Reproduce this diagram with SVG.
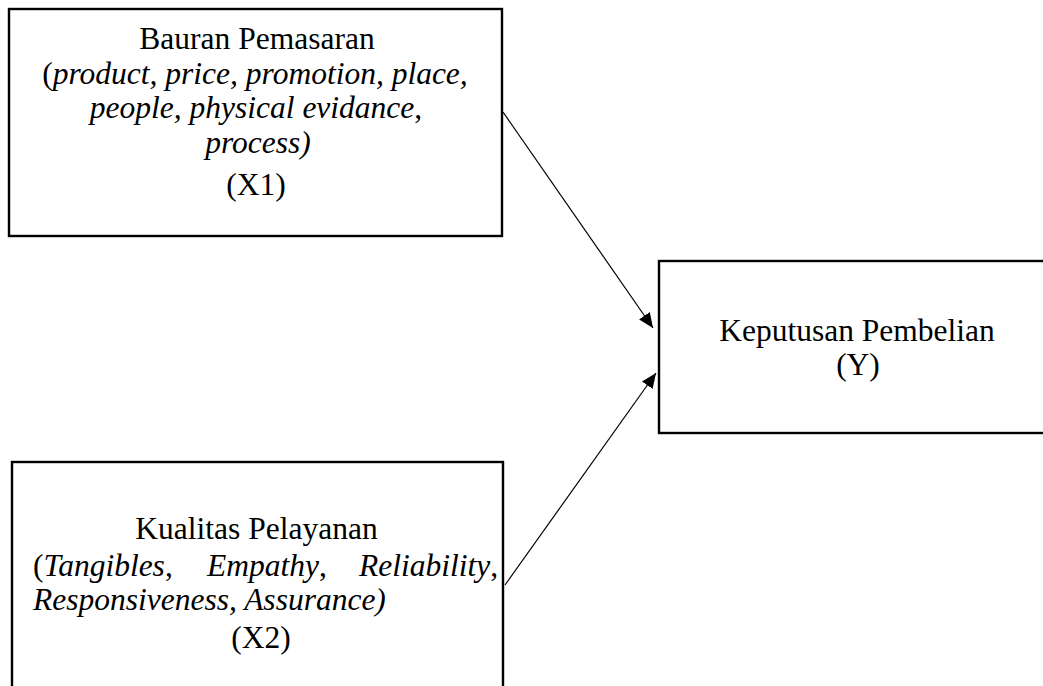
<svg xmlns="http://www.w3.org/2000/svg" width="1043" height="686" viewBox="0 0 1043 686">
<style>
.box{fill:#fff;stroke:#000;stroke-width:2.4}
.t{font-family:"Liberation Serif","Times New Roman",serif;font-size:31.5px;fill:#000}
.c{text-anchor:middle}
.e{text-anchor:end}
.i{font-style:italic}
.edge{stroke:#000;stroke-width:1.2;fill:none}
</style>
<defs>
<marker id="ah" markerUnits="userSpaceOnUse" markerWidth="16" markerHeight="14" refX="15" refY="6.5" orient="auto">
<path d="M0,0 L15,6.5 L0,13 z" fill="#000"/>
</marker>
</defs>
<g id="connectors">
<line class="edge" x1="503" y1="112" x2="653" y2="328" marker-end="url(#ah)"/>
<line class="edge" x1="505" y1="585" x2="656" y2="373" marker-end="url(#ah)"/>
</g>
<g id="x1">
<rect class="box" x="9" y="9" width="493" height="227"/>
<text class="t c" x="257" y="49">Bauran Pemasaran</text>
<text class="t c" x="255" y="84">(<tspan class="i">product, price, promotion, place,</tspan></text>
<text class="t c" x="256" y="118"><tspan class="i">people, physical evidance</tspan>,</text>
<text class="t c i" x="258" y="153">process)</text>
<text class="t c" x="256" y="195">(X1)</text>
</g>
<g id="x2">
<rect class="box" x="12" y="462" width="491" height="240"/>
<text class="t c" x="256.5" y="539">Kualitas Pelayanan</text>
<text class="t" x="33" y="576">(<tspan class="i">Tangibles</tspan>,</text>
<text class="t c" x="267" y="576"><tspan class="i">Empathy</tspan>,</text>
<text class="t e" x="498" y="576"><tspan class="i">Reliability</tspan>,</text>
<text class="t i" x="33" y="610">Responsiveness, Assurance)</text>
<text class="t c" x="261" y="648">(X2)</text>
</g>
<g id="y">
<rect class="box" x="659" y="261" width="396" height="172"/>
<text class="t c" x="857" y="341">Keputusan Pembelian</text>
<text class="t c" x="858" y="375">(Y)</text>
</g>
</svg>
